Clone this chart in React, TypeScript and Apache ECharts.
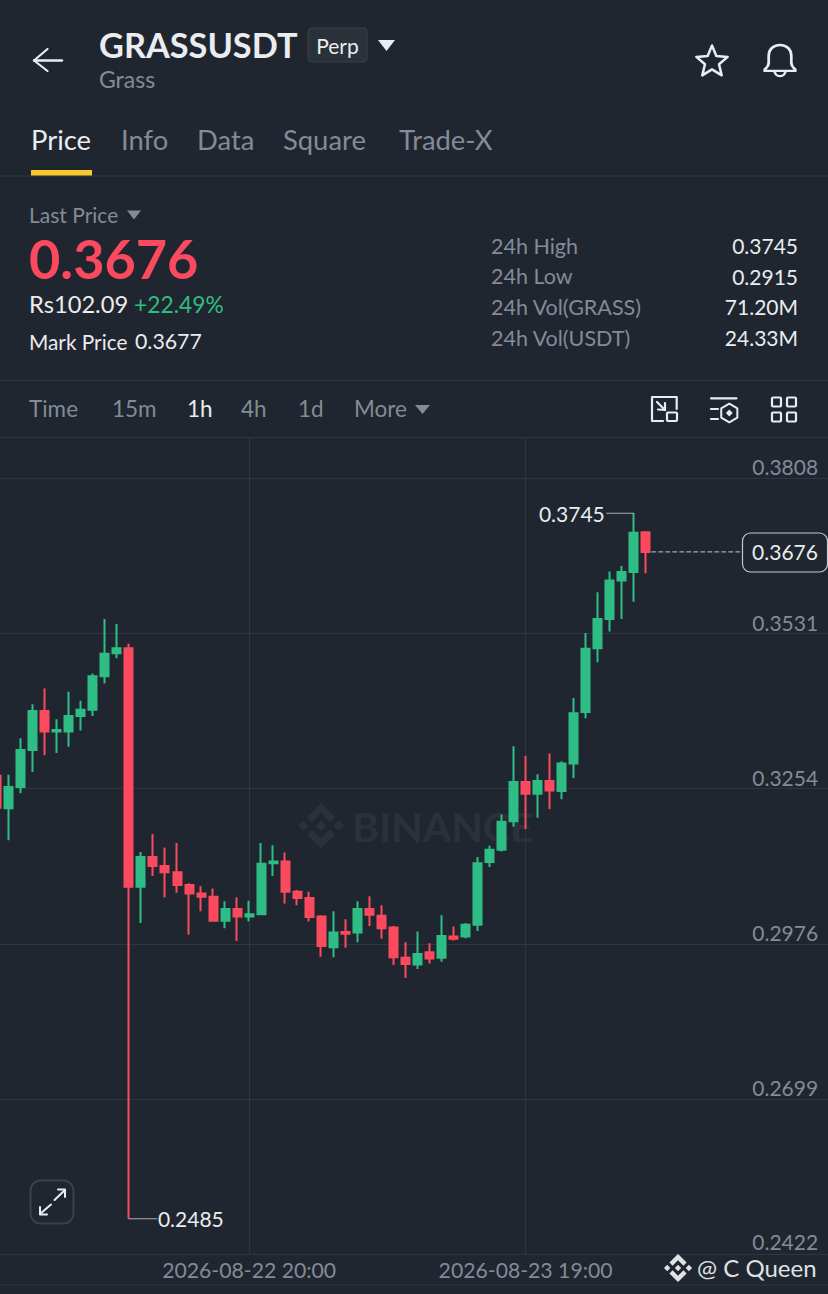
import React, { useEffect, useRef } from "react";
import * as echarts from "echarts";

const BG = "#20262f";
const UP = "#2ebd85";
const DOWN = "#fb4a5f";
const GRAY = "#848b96";
const WHITE = "#eaecef";
const LINE = "#30363f";
const FONT = "Lato";
const OFFSET = 30;

const opens = [0.3276,0.3218,0.3256,0.3322,0.3392,0.3355,0.3355,0.3383,0.3394,0.3454,0.3495,0.3504,0.3078,0.3131,0.3115,0.3104,0.3081,0.3066,0.3060,0.3017,0.3038,0.3025,0.3029,0.3120,0.3123,0.3069,0.3058,0.3025,0.2970,0.2997,0.2996,0.3038,0.3026,0.3005,0.2951,0.2939,0.2961,0.2951,0.2989,0.2989,0.3010,0.3122,0.3144,0.3195,0.3265,0.3244,0.3267,0.3249,0.3298,0.3390,0.3504,0.3556,0.3625,0.3640,0.3711];
const closes = [0.3219,0.3256,0.3322,0.3392,0.3355,0.3358,0.3383,0.3394,0.3454,0.3494,0.3504,0.3078,0.3131,0.3115,0.3104,0.3081,0.3066,0.3060,0.3017,0.3038,0.3025,0.3029,0.3119,0.3123,0.3069,0.3058,0.3024,0.2972,0.2996,0.2994,0.3038,0.3028,0.3004,0.2952,0.2940,0.2958,0.2950,0.2990,0.2985,0.3010,0.3120,0.3144,0.3194,0.3265,0.3244,0.3267,0.3250,0.3298,0.3388,0.3503,0.3556,0.3625,0.3640,0.3710,0.3676];
const lows = [0.3206,0.3161,0.3245,0.3283,0.3313,0.3317,0.3328,0.3357,0.3383,0.3441,0.3486,0.2485,0.3013,0.3097,0.3059,0.3067,0.2992,0.3034,0.3016,0.3004,0.2981,0.3016,0.3027,0.3097,0.3048,0.3045,0.3016,0.2953,0.2952,0.2969,0.2979,0.3008,0.2985,0.2938,0.2915,0.2931,0.2941,0.2944,0.2982,0.2986,0.2999,0.3113,0.3141,0.3185,0.3181,0.3201,0.3217,0.3234,0.3272,0.3379,0.3479,0.3534,0.3556,0.3587,0.3638];
const highs = [0.3287,0.3278,0.3343,0.3404,0.3432,0.3377,0.3426,0.3410,0.3459,0.3556,0.3547,0.3512,0.3140,0.3172,0.3148,0.3156,0.3084,0.3079,0.3075,0.3052,0.3059,0.3053,0.3156,0.3152,0.3139,0.3072,0.3069,0.3027,0.3034,0.3020,0.3052,0.3061,0.3045,0.3008,0.2979,0.2998,0.2977,0.3027,0.3007,0.3013,0.3131,0.3151,0.3207,0.3329,0.3312,0.3279,0.3316,0.3302,0.3415,0.3531,0.3604,0.3641,0.3651,0.3745,0.3712];
const priceTicks = [0.2422, 0.2699, 0.2976, 0.3254, 0.3531, 0.3808];
const xLabels = ["2026-08-22 20:00", "2026-08-23 19:00"];
const statLabels = ["24h High", "24h Low", "24h Vol(GRASS)", "24h Vol(USDT)"];
const statValues = ["0.3745", "0.2915", "71.20M", "24.33M"];
const tabs: [string, number][] = [["Price", 31], ["Info", 121], ["Data", 197], ["Square", 283], ["Trade-X", 399]];
const intervals: [string, number][] = [["Time", 29], ["15m", 112], ["1h", 187], ["4h", 241], ["1d", 298], ["More", 354]];
const lastPrice = 0.3676;
const leadHours = 2;
const totalCats = 72;

function catLabel(i: number) {
  const d = new Date(Date.UTC(2026, 7, 21, 22 + i));
  const p = (n: number) => String(n).padStart(2, "0");
  return `${d.getUTCFullYear()}-${p(d.getUTCMonth() + 1)}-${p(d.getUTCDate())} ${p(d.getUTCHours())}:00`;
}
const categories = Array.from({ length: totalCats }, (_, i) => catLabel(i));
const candles = [["-", "-", "-", "-"], ...opens.map((o, i) => [o, closes[i], lows[i], highs[i]])];

const LOGO = "M16.624 13.9202l2.7175 2.7154-7.353 7.353-7.353-7.352 2.7175-2.7164 4.6355 4.6595 4.6356-4.6595zm4.6366-4.6366L24 12l-2.7154 2.7164L18.5682 12l2.6924-2.7164zm-9.272.001l2.7163 2.6914-2.7164 2.7174v-.001L9.2721 12l2.7164-2.7154zm-9.2722-.001L5.4088 12l-2.6914 2.6924L0 12l2.7164-2.7164zM11.9885.0115l7.353 7.329-2.7174 2.7154-4.6356-4.6356-4.6355 4.6595-2.7174-2.7154 7.353-7.353z";
const BELL = "M12 2.5c-3.6 0-5.8 2.8-5.8 6.4v4.2c0 1.6-.8 2.8-2 3.9v.9h15.6v-.9c-1.2-1.1-2-2.3-2-3.9V8.9c0-3.6-2.2-6.4-5.8-6.4z M9.2 17.8c0 1.9 1.2 3.2 2.8 3.2s2.8-1.3 2.8-3.2";
echarts.graphic.registerShape("binanceLogo", echarts.graphic.extendPath(LOGO as any, {}) as any);
echarts.graphic.registerShape("bellIcon", echarts.graphic.extendPath(BELL as any, {}) as any);

function t(text: string, x: number, y: number, size: number, fill: string, o: any = {}) {
  return {
    type: "text", x, y: y - 1, z: o.z ?? 5, silent: true,
    style: { text, fill, font: `${o.weight ?? "normal"} ${size}px ${FONT}, sans-serif`, textAlign: o.align ?? "left", textVerticalAlign: "middle", verticalAlign: "middle" },
  };
}
function ln(x1: number, y1: number, x2: number, y2: number, stroke = LINE, lineWidth = 1, dash?: number[], z = 1) {
  return { type: "line", z, silent: true, shape: { x1, y1, x2, y2 }, style: { stroke, lineWidth, lineDash: dash, lineCap: "round" } };
}
function poly(points: number[][], stroke = WHITE, lineWidth = 2.2) {
  return { type: "polyline", z: 5, silent: true, shape: { points }, style: { stroke, lineWidth, fill: "none", lineJoin: "round", lineCap: "round" } };
}
function tri(x1: number, x2: number, y1: number, y2: number, fill: string) {
  return { type: "polygon", z: 5, silent: true, shape: { points: [[x1, y1], [x2, y1], [(x1 + x2) / 2, y2]] }, style: { fill } };
}
function rr(x: number, y: number, w: number, h: number, r: number, stroke: string, fill = "none", lineWidth = 2, z = 5) {
  return { type: "rect", z, silent: true, shape: { x, y, width: w, height: h, r }, style: { stroke, fill, lineWidth } };
}
function starPoints(cx: number, cy: number, R: number, r: number) {
  const pts: number[][] = [];
  for (let i = 0; i < 10; i++) {
    const a = -Math.PI / 2 + (i * Math.PI) / 5;
    const q = i % 2 ? r : R;
    pts.push([cx + q * Math.cos(a), cy + q * Math.sin(a)]);
  }
  return pts;
}

function chrome(): any[] {
  const hex: number[][] = [];
  for (let i = 0; i < 6; i++) {
    const a = Math.PI / 2 + (i * Math.PI) / 3;
    hex.push([729.3 + 9.3 * Math.cos(a), 413 + 9.3 * Math.sin(a)]);
  }
  return [
    // header
    poly([[47.5, 49], [34, 60.5], [47.5, 71]]),
    ln(34, 60.5, 62, 60.5, WHITE, 2.4, undefined, 5),
    t("GRASSUSDT", 99, 45, 34.3, WHITE, { weight: "bold" }),
    rr(308, 28, 59, 34, 4, "#39404a", "#2b3139", 1),
    t("Perp", 337.5, 46, 21, WHITE, { align: "center" }),
    tri(378, 395, 40, 51, WHITE),
    t("Grass", 99, 80, 23, GRAY),
    { type: "polygon", z: 5, silent: true, shape: { points: starPoints(712, 62, 16.5, 7.4) }, style: { stroke: WHITE, lineWidth: 2.5, fill: "none", lineJoin: "round" } },
    { type: "bellIcon", z: 5, silent: true, x: 756.6, y: 40.8, scaleX: 1.95, scaleY: 1.68, style: { stroke: WHITE, fill: "none", lineWidth: 1.4 } },
    // tabs
    ...tabs.map(([s, x], i) => t(s, x, 140, 27.4, i === 0 ? WHITE : GRAY)),
    { type: "rect", z: 5, silent: true, shape: { x: 31, y: 170, width: 61, height: 5.5 }, style: { fill: "#f7c92f" } },
    ln(0, 176, 828, 176),
    // price block
    t("Last Price", 29, 215, 21, GRAY),
    tri(127, 141, 210.5, 219.5, GRAY),
    t("0.3676", 29, 259, 54, DOWN, { weight: "bold" }),
    t("Rs102.09", 29, 305, 23.7, WHITE),
    t("+22.49%", 134, 305, 22.8, UP),
    t("Mark Price", 29, 342, 20.8, WHITE),
    t("0.3677", 135, 342, 21.3, WHITE),
    ...statLabels.map((s, i) => t(s, 491, 246.5 + i * 30.7, 21.5, GRAY)),
    ...statValues.map((s, i) => t(s, 798, 246.5 + i * 30.7, 21, WHITE, { align: "right" })),
    ln(0, 380.5, 828, 380.5),
    // interval bar
    ...intervals.map(([s, x]) => t(s, x, 409, 22.5, s === "1h" ? WHITE : GRAY)),
    tri(415, 430, 405, 414, GRAY),
    poly([[676.7, 409], [676.7, 397], [652, 397], [652, 421], [663, 421]], WHITE, 2.2),
    rr(667, 412.5, 10, 8.5, 1, WHITE, "none", 2.2),
    poly([[657, 402], [665, 410]], WHITE, 2.2),
    poly([[658, 409.5], [665, 410], [665, 403]], WHITE, 2.2),
    ln(711, 398.3, 736.5, 398.3, WHITE, 2.2, undefined, 5),
    ln(711, 409, 718, 409, WHITE, 2.2, undefined, 5),
    ln(711, 419, 718, 419, WHITE, 2.2, undefined, 5),
    { type: "polygon", z: 5, silent: true, shape: { points: hex }, style: { stroke: WHITE, fill: "none", lineWidth: 2, lineJoin: "round" } },
    { type: "polygon", z: 5, silent: true, shape: { points: [[729.3, 409.6], [732.7, 413], [729.3, 416.4], [725.9, 413]] }, style: { fill: WHITE } },
    rr(772, 397.5, 9, 9, 1, WHITE, "none", 2.2),
    rr(787, 397.5, 9, 9, 1, WHITE, "none", 2.2),
    rr(772, 412.5, 9, 9, 1, WHITE, "none", 2.2),
    rr(787, 412.5, 9, 9, 1, WHITE, "none", 2.2),
    ln(0, 437.5, 828, 437.5),
    // watermark
    { type: "binanceLogo", z: 0, silent: true, x: 298, y: 803, scaleX: 1.92, scaleY: 1.9, style: { fill: "#2b313b" } },
    { type: "text", z: 0, silent: true, x: 352, y: 826, style: { text: "BINANCE", fill: "#2b313b", font: `bold 41px ${FONT}, sans-serif`, textAlign: "left", textVerticalAlign: "middle", verticalAlign: "middle" } },
    // expand button
    rr(30.5, 1180.5, 43, 43, 10, "#3a404a", "none", 2),
    poly([[54.5, 1200], [65, 1190]], WHITE, 2),
    poly([[58, 1189.5], [65, 1189.5], [65, 1197]], WHITE, 2),
    poly([[51, 1204.5], [40, 1214]], WHITE, 2),
    poly([[40, 1207], [40, 1214.5], [47, 1214.5]], WHITE, 2),
    // footer
    ln(0, 1285, 828, 1285),
    { type: "binanceLogo", z: 5, silent: true, x: 664, y: 1254, scaleX: 1.17, scaleY: 1.17, style: { fill: "#dfe1e4" } },
    t("@ C Queen", 697, 1268, 24, "#dfe1e4"),
  ];
}

export default function App() {
  const ref = useRef<HTMLDivElement>(null);
  useEffect(() => {
    const chart = echarts.init(ref.current!, undefined, { renderer: "svg" });
    const yMin = 0.2422;
    const yMax = 0.38812;
    chart.setOption({
      animation: false,
      backgroundColor: BG,
      grid: { left: OFFSET - 15.32, top: 437, width: 853.42, height: 817, containLabel: false },
      xAxis: {
        type: "category",
        data: categories,
        boundaryGap: false,
        axisLine: { show: true, lineStyle: { color: LINE, width: 1 } },
        axisTick: { show: false },
        axisLabel: {
          show: true,
          interval: (_: number, v: string) => xLabels.includes(v),
          color: GRAY,
          fontFamily: FONT,
          fontSize: 21.2,
          margin: 5,
        },
        splitLine: { show: true, interval: (_: number, v: string) => xLabels.includes(v), lineStyle: { color: LINE, width: 1 } },
      },
      yAxis: {
        type: "value",
        position: "right",
        min: yMin,
        max: yMax,
        scale: true,
        axisLine: { show: false },
        axisTick: { show: false, customValues: priceTicks },
        splitLine: { show: true, lineStyle: { color: LINE, width: 1 } },
        axisLabel: {
          show: true,
          inside: true,
          customValues: priceTicks,
          formatter: (v: number) => (v === yMin ? `{low|${v.toFixed(4)}}` : v.toFixed(4)),
          color: GRAY,
          fontFamily: FONT,
          fontSize: 21,
          margin: 20,
          align: "right",
          verticalAlign: "bottom",
          lineHeight: 22,
          rich: {
            low: { color: GRAY, fontFamily: FONT, fontSize: 21, height: 21, lineHeight: 21, padding: [0, 0, 5, 0] },
          },
        },
      },
      series: [
        {
          type: "candlestick",
          data: candles,
          barWidth: 8.5,
          itemStyle: { color: UP, color0: DOWN, borderColor: UP, borderColor0: DOWN, borderWidth: 2 },
        },
      ],
    });

    const toPx = (i: number, v: number) => {
      const p = chart.convertToPixel({ xAxisIndex: 0, yAxisIndex: 0 }, [i + leadHours - 1, v]) as number[];
      return [p[0] - OFFSET, p[1]];
    };
    const highIdx = highs.indexOf(Math.max(...highs));
    const lowIdx = lows.indexOf(Math.min(...lows));
    const hi = toPx(highIdx, highs[highIdx]);
    const lo = toPx(lowIdx, lows[lowIdx]);
    const last = toPx(opens.length - 1, lastPrice);
    const ann: any[] = [
      ln(hi[0] - 27, hi[1], hi[0], hi[1], "#aab0b8", 1.2, undefined, 6),
      t(highs[highIdx].toFixed(4), hi[0] - 29, hi[1] + 1, 21, WHITE, { align: "right", z: 6 }),
      ln(lo[0], lo[1], lo[0] + 28, lo[1], "#aab0b8", 1.2, undefined, 6),
      t(lows[lowIdx].toFixed(4), lo[0] + 29, lo[1] + 1, 21, WHITE, { z: 6 }),
      ln(last[0] + 6, last[1], 742, last[1], "#c4c8cd", 1, [4, 3], 6),
      rr(742.5, 533, 85, 39, 8, "#c4c8cd", BG, 1.2, 6),
      t(lastPrice.toFixed(4), 785, last[1] + 1, 21, WHITE, { align: "center", z: 7 }),
    ];
    chart.setOption({ graphic: { elements: [{ type: "group", x: OFFSET, y: 0, children: [...chrome(), ...ann] }] } });
    return () => chart.dispose();
  }, []);
  return (
    <div style={{ position: "absolute", left: 0, top: 0, width: 828, height: 1294, overflow: "hidden" }}>
      <div ref={ref} style={{ position: "absolute", left: -OFFSET, top: 0, width: 870, height: 1294 }} />
    </div>
  );
}
